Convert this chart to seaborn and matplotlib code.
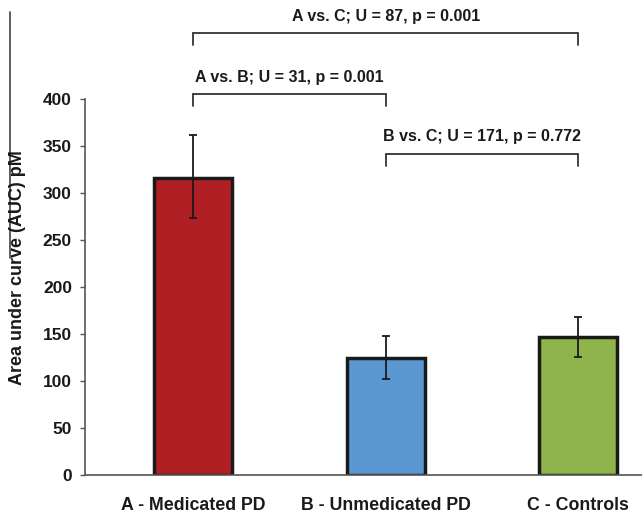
import matplotlib
matplotlib.use("Agg")
import matplotlib.pyplot as plt
from matplotlib.lines import Line2D
import seaborn as sns
import pandas as pd

# Group means and error-bar extents (AUC, pM)
groups = ["A - Medicated PD", "B - Unmedicated PD", "C - Controls"]
means = [316, 124.5, 146.5]
err_low = [273, 102.5, 125.5]
err_high = [361, 148, 168]
colors = ["#B01F24", "#5B98D2", "#8EB44B"]

# Pairwise Mann-Whitney comparisons: (left group, right group, label)
comparisons = [
    (0, 2, "A vs. C; U = 87, p = 0.001"),
    (0, 1, "A vs. B; U = 31, p = 0.001"),
    (1, 2, "B vs. C; U = 171, p = 0.772"),
]
bracket_y = [470, 405, 341.5]

yticks = [0, 50, 100, 150, 200, 250, 300, 350, 400]

sns.set_style("white")
plt.rcParams["font.family"] = ["Liberation Sans", "DejaVu Sans"]

df = pd.DataFrame({"group": groups, "auc": means})

fig = plt.figure(figsize=(6.42, 5.13), dpi=100)
ax = fig.add_axes([85 / 642, 38 / 513, 1 - 85 / 642, 475 / 513])

sns.barplot(data=df, x="group", y="auc", hue="group", palette=colors,
            saturation=1, width=0.405, edgecolor="#1a1a1a", linewidth=2.5,
            legend=False, ax=ax, errorbar=None)

# Error bars
for i, (m, lo, hi) in enumerate(zip(means, err_low, err_high)):
    ax.errorbar(i, m, yerr=[[m - lo], [hi - m]], fmt="none",
                ecolor="#1a1a1a", elinewidth=1.3, capsize=2.6, capthick=1.3,
                zorder=5)

# Significance brackets
for (a, b, label), y in zip(comparisons, bracket_y):
    ax.plot([a, a, b, b], [y - 13, y, y, y - 13], color="#333333",
            lw=1.3, clip_on=False, solid_joinstyle="miter")
    ax.text((a + b) / 2, y + 10, label, ha="center", va="bottom",
            fontsize=11.5, fontweight="bold", color="#1a1a1a")

ax.set_xlim(-0.56, 2.33)
ax.set_ylim(0, 505)
ax.set_yticks(yticks)
ax.set_yticklabels([str(t) for t in yticks], fontsize=12.5,
                   fontweight="bold", color="#1a1a1a")
ax.tick_params(axis="y", which="major", length=3.6, width=1,
               color="#555555", left=True, pad=5.8)
ax.tick_params(axis="x", length=0, pad=16)
for lbl in ax.get_xticklabels():
    lbl.set_fontsize(12.8)
    lbl.set_fontweight("bold")
    lbl.set_color("#1a1a1a")

ax.set_xlabel("")
ax.set_ylabel("")
fig.text(18 / 642, 1 - 268 / 513, "Area under curve (AUC) pM",
         rotation=90, ha="center", va="center", fontsize=13,
         fontweight="bold", color="#1a1a1a")

for s in ["top", "right"]:
    ax.spines[s].set_visible(False)
ax.spines["left"].set_bounds(0, 400)
ax.spines["left"].set_color("#555555")
ax.spines["left"].set_linewidth(1.2)
ax.spines["bottom"].set_color("#555555")
ax.spines["bottom"].set_linewidth(1.2)

# Thin rule along the far left edge
fig.add_artist(Line2D([10.5 / 642, 10.5 / 642], [1 - 12 / 513, 1 - 258 / 513],
                      transform=fig.transFigure, color="#444444", lw=1.2))

fig.savefig("out.png", dpi=100)
